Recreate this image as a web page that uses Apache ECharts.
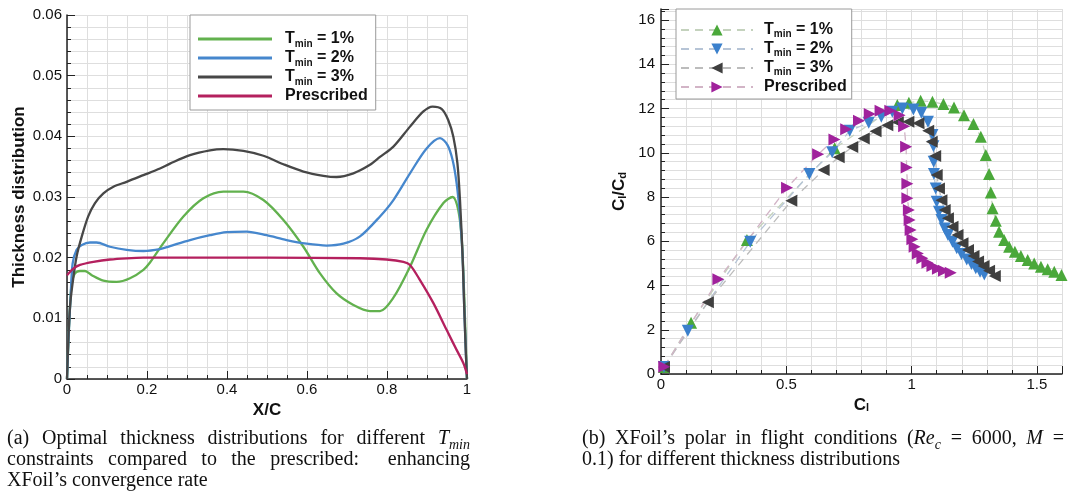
<!DOCTYPE html>
<html>
<head>
<meta charset="utf-8">
<script src="https://cdn.jsdelivr.net/npm/echarts@6/dist/echarts.min.js"></script>
<style>
body { margin: 0; background: #fff; }
#main { width: 1068px; height: 502px; }
.cap { position: absolute; font-family: 'Liberation Serif', 'Times New Roman', serif; font-size: 20px; line-height: 21px; color: #111; }
.cap div { white-space: nowrap; }
.cap .j { text-align: justify; text-align-last: justify; white-space: normal; }
sub { font-size: 70%; line-height: 0; }
</style>
</head>
<body>
<div id="main"></div>
<div class="cap" style="left:7px;top:427px;width:463px;">
  <div class="j">(a) Optimal thickness distributions for different <i>T<sub>min</sub></i></div>
  <div class="j">constraints compared to the prescribed:&nbsp; enhancing</div>
  <div>XFoil’s convergence rate</div>
</div>
<div class="cap" style="left:582px;top:427px;width:482px;">
  <div class="j">(b) XFoil’s polar in flight conditions (<i>Re<sub>c</sub></i> = 6000, <i>M</i> =</div>
  <div>0.1) for different thickness distributions</div>
</div>
<script>
var myChart = echarts.init(document.getElementById('main'));

// (a) thickness distribution vs X/C
var t1x = [0, 0.004, 0.008, 0.012, 0.02, 0.0325, 0.045, 0.062, 0.091, 0.124, 0.1575, 0.191, 0.2075, 0.241, 0.291, 0.341, 0.391, 0.441, 0.491, 0.541, 0.591, 0.6325, 0.674, 0.716, 0.7575, 0.7825, 0.816, 0.8575, 0.899, 0.941, 0.964, 0.978, 0.987, 0.9925, 0.9975, 1];
var t1y = [0, 0.007, 0.0125, 0.0158, 0.0174, 0.0178, 0.0178, 0.0171, 0.0162, 0.016, 0.0166, 0.018, 0.0192, 0.0224, 0.0268, 0.0298, 0.0309, 0.0309, 0.0295, 0.0262, 0.0218, 0.0174, 0.0141, 0.0122, 0.0112, 0.0112, 0.0134, 0.0185, 0.0246, 0.029, 0.03, 0.0279, 0.0229, 0.0147, 0.0048, 0];
var t2x = [0, 0.004, 0.009, 0.014, 0.024, 0.037, 0.0575, 0.074, 0.1075, 0.149, 0.191, 0.2325, 0.2575, 0.3075, 0.3575, 0.399, 0.449, 0.499, 0.549, 0.599, 0.649, 0.691, 0.7325, 0.7825, 0.816, 0.8575, 0.899, 0.9325, 0.951, 0.964, 0.974, 0.9825, 0.989, 0.993, 0.9975, 1];
var t2y = [0, 0.007, 0.0135, 0.019, 0.0213, 0.0221, 0.0225, 0.0225, 0.0218, 0.0213, 0.0211, 0.0214, 0.0219, 0.0229, 0.0237, 0.0242, 0.0243, 0.0237, 0.0229, 0.0223, 0.022, 0.0223, 0.0235, 0.0268, 0.0295, 0.0339, 0.038, 0.0397, 0.0386, 0.0361, 0.0323, 0.0268, 0.0202, 0.0119, 0.0037, 0];
var t3x = [0, 0.003, 0.0075, 0.014, 0.024, 0.037, 0.053, 0.07, 0.091, 0.116, 0.149, 0.191, 0.2325, 0.2575, 0.3075, 0.3575, 0.391, 0.441, 0.491, 0.541, 0.591, 0.641, 0.674, 0.716, 0.7575, 0.7825, 0.816, 0.8575, 0.891, 0.914, 0.937, 0.953, 0.966, 0.976, 0.9825, 0.989, 0.993, 0.9975, 1];
var t3y = [0, 0.0059, 0.0119, 0.0158, 0.0202, 0.0235, 0.0268, 0.029, 0.0306, 0.0317, 0.0325, 0.0336, 0.0347, 0.0355, 0.0369, 0.0377, 0.0379, 0.0376, 0.0368, 0.0354, 0.0342, 0.0335, 0.0333, 0.0339, 0.0353, 0.0366, 0.0383, 0.0416, 0.0441, 0.0449, 0.0445, 0.0427, 0.0399, 0.0356, 0.0295, 0.0202, 0.0119, 0.0037, 0];
var presX = [0, 0.016, 0.0325, 0.066, 0.1075, 0.149, 0.191, 0.3, 0.5, 0.7325, 0.799, 0.841, 0.8575, 0.8825, 0.916, 0.949, 0.974, 0.991, 1];
var presY = [0.0171, 0.0182, 0.0188, 0.0193, 0.0197, 0.0199, 0.02, 0.02, 0.02, 0.0199, 0.0197, 0.0193, 0.0188, 0.0163, 0.0125, 0.0081, 0.0048, 0.0026, 0.0008];

// (b) XFoil polar: Cl and Cl/Cd
var p1cl = [0.012, 0.12, 0.343, 0.693, 0.943, 0.989, 1.036, 1.083, 1.127, 1.169, 1.209, 1.247, 1.276, 1.296, 1.309, 1.316, 1.323, 1.336, 1.349, 1.369, 1.389, 1.412, 1.436, 1.463, 1.489, 1.516, 1.543, 1.569, 1.598];
var p1ld = [0.32, 2.32, 6.06, 10.2, 12.16, 12.26, 12.35, 12.31, 12.2, 12.05, 11.7, 11.3, 10.73, 9.9, 9.04, 8.2, 7.49, 6.93, 6.43, 6.06, 5.75, 5.53, 5.33, 5.15, 5.0, 4.85, 4.73, 4.62, 4.47];
var p2cl = [0.012, 0.107, 0.356, 0.592, 0.683, 0.753, 0.829, 0.879, 0.923, 0.963, 1.007, 1.039, 1.065, 1.083, 1.087, 1.088, 1.089, 1.096, 1.1, 1.109, 1.119, 1.132, 1.145, 1.163, 1.18, 1.199, 1.22, 1.239, 1.256, 1.273, 1.29];
var p2ld = [0.32, 1.96, 5.98, 9.04, 10.02, 11.0, 11.36, 11.63, 11.86, 12.0, 11.96, 11.81, 11.4, 10.8, 10.3, 9.6, 9.04, 8.39, 7.79, 7.34, 6.96, 6.58, 6.28, 5.98, 5.68, 5.42, 5.18, 4.97, 4.78, 4.62, 4.5];
var p3cl = [0.012, 0.187, 0.52, 0.649, 0.709, 0.763, 0.809, 0.856, 0.903, 0.945, 0.987, 1.027, 1.066, 1.08, 1.094, 1.1, 1.109, 1.119, 1.132, 1.145, 1.163, 1.183, 1.203, 1.225, 1.247, 1.265, 1.287, 1.309, 1.332];
var p3ld = [0.32, 3.24, 7.83, 9.22, 9.8, 10.26, 10.65, 10.97, 11.25, 11.38, 11.4, 11.33, 11.0, 10.5, 9.85, 9.0, 8.39, 7.86, 7.41, 7.04, 6.66, 6.28, 5.91, 5.6, 5.33, 5.08, 4.88, 4.67, 4.43];
var p4cl = [0.013, 0.229, 0.503, 0.627, 0.692, 0.739, 0.79, 0.833, 0.876, 0.915, 0.952, 0.97, 0.978, 0.98, 0.983, 0.983, 0.989, 0.992, 0.996, 1.003, 1.012, 1.025, 1.043, 1.063, 1.083, 1.105, 1.129, 1.156];
var p4ld = [0.33, 4.28, 8.42, 9.93, 10.6, 11.06, 11.45, 11.75, 11.9, 11.9, 11.7, 11.2, 10.27, 9.34, 8.6, 7.94, 7.41, 6.96, 6.51, 6.09, 5.75, 5.45, 5.23, 5.03, 4.88, 4.76, 4.67, 4.58];

var keys = ['1%', '2%', '3%', 'Prescribed'];
var lineColors = ['#62b14e', '#4687cd', '#474747', '#b4205e'];
var markColors = ['#4aa83a', '#3b80cc', '#3f3f3f', '#a0229c'];
var dashColors = ['#c4d2bd', '#b6c4d6', '#bcbcbc', '#d2b4c6'];
var markRotate = [0, 180, 90, -90];

var font = "Arial, 'Liberation Sans', Helvetica, sans-serif";

function zip(xs, ys) {
    var out = [];
    for (var i = 0; i < xs.length; ++i) out.push([xs[i], ys[i]]);
    return out;
}

function legendLabel(name) {
    var k = name.slice(2);
    if (k == 'Prescribed') return '{b|Prescribed}';
    return '{b|T}{s|min}{b| = ' + k + '}';
}

var gridLine = { show: true, lineStyle: { color: '#dedede', width: 1 } };
var axisLineDark = { show: true, lineStyle: { color: '#222', width: 1.5 } };
var tickLabel = { fontSize: 15, color: '#111', fontFamily: font };
var subStyle = { fontSize: 11, fontWeight: 'bold', fontFamily: font, color: '#111', lineHeight: 8, verticalAlign: 'bottom' };

function legendRich(lh) {
    return {
        b: { fontSize: 16, fontWeight: 'bold', fontFamily: font, color: '#111', lineHeight: lh },
        s: { fontSize: 10, fontWeight: 'bold', fontFamily: font, color: '#111', lineHeight: 8, verticalAlign: 'bottom' }
    };
}

var aCurves = [[t1x, t1y], [t2x, t2y], [t3x, t3y], [presX, presY]];
var bPolars = [[p1cl, p1ld], [p2cl, p2ld], [p3cl, p3ld], [p4cl, p4ld]];

var series = [];
for (var i = 0; i < 4; ++i) {
    series.push({
        name: 'a:' + keys[i],
        type: 'line',
        xAxisIndex: 0,
        yAxisIndex: 0,
        symbol: 'none',
        smooth: 0.3,
        lineStyle: { color: lineColors[i], width: 2.3 },
        itemStyle: { color: lineColors[i] },
        data: zip(aCurves[i][0], aCurves[i][1])
    });
}
for (var i = 0; i < 4; ++i) {
    series.push({
        name: 'b:' + keys[i],
        type: 'line',
        xAxisIndex: 1,
        yAxisIndex: 1,
        symbol: 'triangle',
        symbolSize: 12,
        symbolRotate: markRotate[i],
        lineStyle: { color: dashColors[i], width: 1.3, type: [8, 6] },
        itemStyle: { color: markColors[i] },
        data: zip(bPolars[i][0], bPolars[i][1])
    });
}

myChart.setOption({
    backgroundColor: '#fff',
    animation: false,
    grid: [
        { left: 67, top: 15, width: 400, height: 364 },
        { left: 661, top: 9, width: 401, height: 365 }
    ],
    legend: [
        {
            data: ['a:1%', 'a:2%', 'a:3%', 'a:Prescribed'],
            orient: 'vertical',
            left: 190, top: 15,
            padding: [16, 8, 6, 8],
            itemGap: 1,
            itemWidth: 74, itemHeight: 3,
            icon: 'rect',
            backgroundColor: '#fff',
            borderColor: '#9a9a9a', borderWidth: 1,
            formatter: legendLabel,
            textStyle: { padding: [0, 0, 0, 8], rich: legendRich(20) }
        },
        {
            data: ['b:1%', 'b:2%', 'b:3%', 'b:Prescribed'],
            orient: 'vertical',
            left: 676, top: 9,
            padding: [13, 5, 4, 4],
            itemGap: 1.5,
            itemWidth: 72, itemHeight: 14,
            backgroundColor: '#fff',
            borderColor: '#9a9a9a', borderWidth: 1,
            formatter: legendLabel,
            textStyle: { padding: [0, 0, 0, 6], rich: legendRich(19) }
        }
    ],
    xAxis: [
        {
            gridIndex: 0, type: 'value', min: 0, max: 1, interval: 0.2,
            name: 'X/C', nameLocation: 'middle', nameGap: 16,
            nameTextStyle: { fontSize: 17, fontWeight: 'bold', color: '#111', fontFamily: font },
            axisLine: axisLineDark,
            axisTick: { inside: true, length: 8, lineStyle: { color: '#222' } },
            minorTick: { show: true, splitNumber: 4, length: 4, lineStyle: { color: '#222' } },
            axisLabel: Object.assign({ margin: 3 }, tickLabel),
            splitLine: gridLine,
            minorSplitLine: gridLine
        },
        {
            gridIndex: 1, type: 'value', min: 0, max: 1.6, interval: 0.5,
            name: 'C{s|l}', nameLocation: 'middle', nameGap: 12,
            nameTextStyle: { fontSize: 17, fontWeight: 'bold', color: '#111', fontFamily: font, rich: { s: subStyle } },
            axisLine: axisLineDark,
            axisTick: { inside: true, length: 8, lineStyle: { color: '#222' } },
            minorTick: { show: true, splitNumber: 5, length: 4, lineStyle: { color: '#222' } },
            axisLabel: Object.assign({ margin: 3, showMaxLabel: false }, tickLabel),
            splitLine: gridLine,
            minorSplitLine: gridLine
        }
    ],
    yAxis: [
        {
            gridIndex: 0, type: 'value', min: 0, max: 0.06, interval: 0.01,
            name: 'Thickness distribution', nameLocation: 'middle', nameGap: 39,
            nameTextStyle: { fontSize: 17, fontWeight: 'bold', color: '#111', fontFamily: font },
            axisLine: axisLineDark,
            axisTick: { inside: true, length: 8, lineStyle: { color: '#222' } },
            minorTick: { show: true, splitNumber: 5, length: 4, lineStyle: { color: '#222' } },
            axisLabel: Object.assign({ margin: 5 }, tickLabel),
            splitLine: gridLine,
            minorSplitLine: gridLine
        },
        {
            gridIndex: 1, type: 'value', min: 0, max: 16.5, interval: 2,
            name: 'C{s|l}/C{s|d}', nameLocation: 'middle', nameGap: 33,
            nameTextStyle: { fontSize: 17, fontWeight: 'bold', color: '#111', fontFamily: font, rich: { s: subStyle } },
            axisLine: axisLineDark,
            axisTick: { inside: true, length: 8, lineStyle: { color: '#222' } },
            minorTick: { show: true, splitNumber: 5, length: 4, lineStyle: { color: '#222' } },
            axisLabel: Object.assign({ margin: 6, showMaxLabel: false }, tickLabel),
            splitLine: gridLine,
            minorSplitLine: gridLine
        }
    ],
    series: series
});
</script>
</body>
</html>
